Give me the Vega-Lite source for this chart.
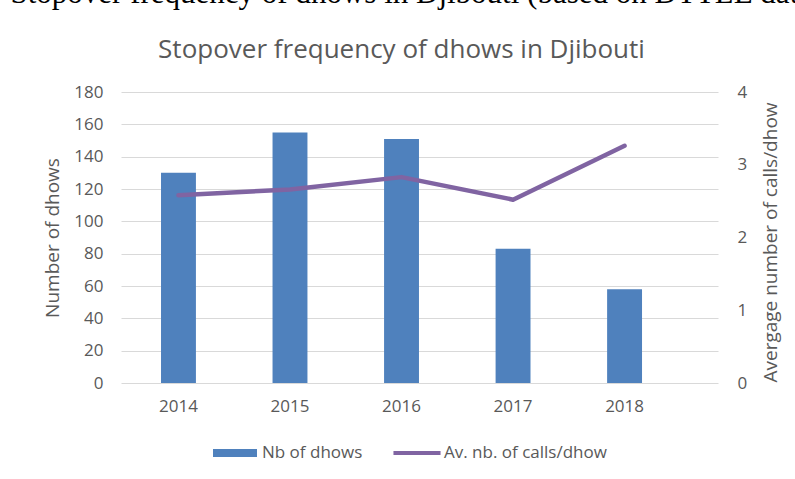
{
  "$schema": "https://vega.github.io/schema/vega-lite/v6.json",
  "width": 597,
  "height": 291,
  "autosize": {"type": "none"},
  "padding": {"left": 121, "top": 92, "right": 77, "bottom": 96},
  "background": "white",
  "config": {"view": {"stroke": null}, "font": "Open Sans"},
  "data": {
    "values": [
      {"year": "2014", "dhows": 130, "calls": 2.58},
      {"year": "2015", "dhows": 155, "calls": 2.66},
      {"year": "2016", "dhows": 151, "calls": 2.83},
      {"year": "2017", "dhows": 83, "calls": 2.52},
      {"year": "2018", "dhows": 58, "calls": 3.26}
    ]
  },
  "layer": [
    {
      "mark": {"type": "bar"},
      "encoding": {
        "x": {
          "field": "year",
          "type": "ordinal",
          "scale": {"paddingInner": 0.687, "paddingOuter": 0.52, "align": 0.345},
          "axis": {
            "title": "Stopover frequency of dhows in Djibouti (based on DTTLE data)",
            "titleFont": "Liberation Serif",
            "titleFontSize": 31,
            "titleFontWeight": "normal",
            "titleColor": "#000000",
            "titleX": -111,
            "titleY": -381,
            "titleAlign": "left",
            "titleAnchor": null,
            "titleBaseline": "alphabetic",
            "labelAngle": 0,
            "ticks": false,
            "domain": false,
            "grid": false,
            "labelPadding": 15,
            "labelFontSize": 17,
            "labelColor": "#595959",
            "labelFont": "Open Sans"
          }
        },
        "y": {
          "field": "dhows",
          "type": "quantitative",
          "scale": {"domain": [0, 180]},
          "axis": {
            "values": [0, 20, 40, 60, 80, 100, 120, 140, 160, 180],
            "title": "Number of dhows",
            "ticks": false,
            "domain": false,
            "grid": true,
            "gridColor": "#D9D9D9",
            "gridWidth": 1,
            "labelPadding": 18,
            "labelFontSize": 17,
            "labelColor": "#595959",
            "labelFont": "Open Sans",
            "titleFont": "Open Sans",
            "titleFontSize": 19,
            "titleFontWeight": "normal",
            "titleColor": "#595959",
            "titlePadding": 11
          }
        },
        "color": {
          "datum": "Nb of dhows",
          "scale": {"domain": ["Nb of dhows", "Av. nb. of calls/dhow"], "range": ["#4F81BD", "#8064A2"]},
          "legend": {
            "orient": "none",
            "legendX": 92,
            "legendY": 339,
            "direction": "horizontal",
            "title": null,
            "symbolSize": 1936,
            "labelFontSize": 17,
            "labelColor": "#595959",
            "labelFont": "Open Sans",
            "labelOffset": 5,
            "labelLimit": 400,
            "columnPadding": 30,
            "padding": 0,
            "encode": {
              "symbols": {
                "update": {
                  "shape": {"signal": "datum.value === 'Nb of dhows' ? 'M-1,-0.18H1V0.18H-1Z' : 'M-1.07,-0.09H1.07V0.09H-1.07Z'"},
                  "fill": {"signal": "datum.value === 'Nb of dhows' ? '#4F81BD' : '#8064A2'"},
                  "stroke": {"value": "transparent"},
                  "strokeWidth": {"value": 0},
                  "opacity": {"value": 1},
                  "fillOpacity": {"value": 1}
                }
              }
            }
          }
        }
      }
    },
    {
      "mark": {"type": "line", "strokeWidth": 4.5, "strokeCap": "round", "strokeJoin": "round"},
      "encoding": {
        "x": {
          "field": "year",
          "type": "ordinal",
          "axis": {
            "orient": "top",
            "labels": false,
            "ticks": false,
            "domain": false,
            "grid": false,
            "title": "Stopover frequency of dhows in Djibouti",
            "titleFont": "Open Sans",
            "titleFontSize": 26,
            "titleFontWeight": "normal",
            "titleColor": "#595959",
            "titleX": 280,
            "titleY": -35,
            "titleAlign": "center",
            "titleBaseline": "alphabetic"
          }
        },
        "y": {
          "field": "calls",
          "type": "quantitative",
          "scale": {"domain": [0, 4]},
          "axis": {
            "orient": "right",
            "values": [0, 1, 2, 3, 4],
            "title": "Avergage number of calls/dhow",
            "ticks": false,
            "domain": false,
            "grid": false,
            "labelPadding": 19,
            "labelFontSize": 17,
            "labelColor": "#595959",
            "labelFont": "Open Sans",
            "titleFont": "Open Sans",
            "titleFontSize": 19,
            "titleFontWeight": "normal",
            "titleColor": "#595959",
            "titleAngle": 270,
            "titleX": 52,
            "titleY": 150,
            "titleAlign": "center",
            "titleBaseline": "middle"
          }
        },
        "color": {"datum": "Av. nb. of calls/dhow"}
      }
    }
  ],
  "resolve": {
    "scale": {"y": "independent"},
    "axis": {"x": "independent", "y": "independent"}
  }
}
